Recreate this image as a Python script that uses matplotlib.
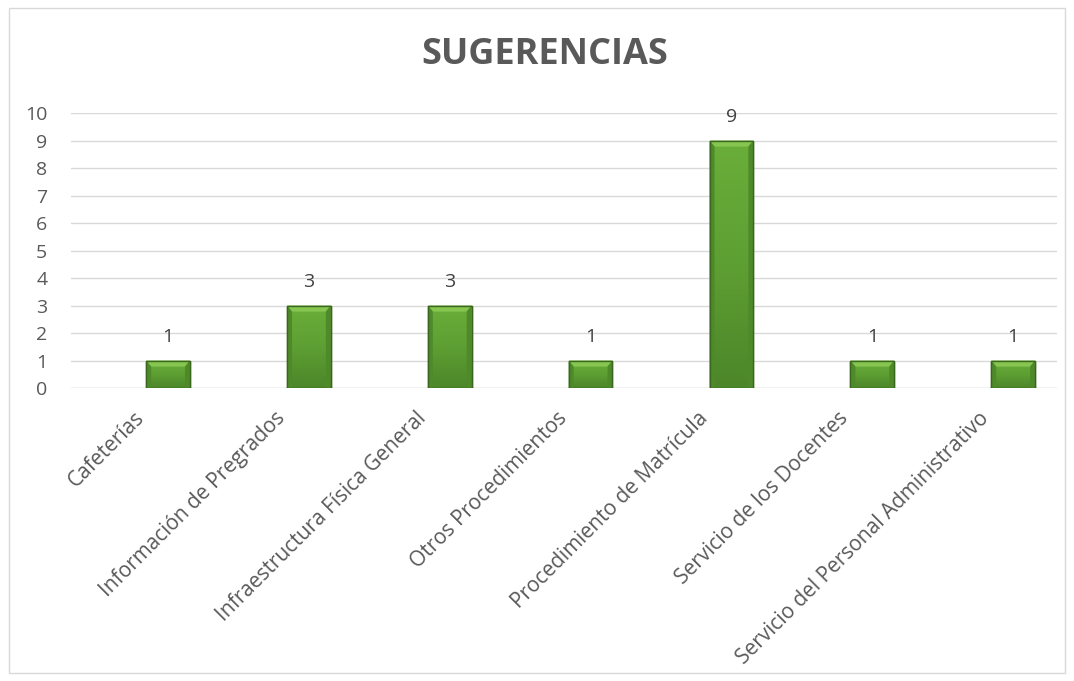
import matplotlib
matplotlib.use("Agg")
from matplotlib import pyplot as plt
from matplotlib.patches import Rectangle, Polygon
from matplotlib.colors import LinearSegmentedColormap
import matplotlib.transforms as mtransforms
import numpy as np

categorias = ["Cafeterías", "Información de Pregrados", "Infraestructura Física General",
              "Otros Procedimientos", "Procedimiento de Matrícula", "Servicio de los Docentes",
              "Servicio del Personal Administrativo"]
valores = [1, 3, 3, 1, 9, 1, 1]
yticks = list(range(0, 11))

plt.rcParams['font.family'] = ['Open Sans', 'DejaVu Sans']
gris = '#595959'

fig = plt.figure(figsize=(10.74, 6.81), dpi=100)
fig.patches.append(Rectangle((9 / 1074, 8 / 681), 1056 / 1074, 665 / 681,
                             transform=fig.transFigure, fill=False,
                             edgecolor='#d9d9d9', linewidth=1))
ax = fig.add_axes([0.066, 0.4302, 0.918, 0.4038])

x = list(range(len(categorias)))
bars = ax.bar(x, valores, width=0.31, color='#5c9c31', edgecolor='#3a661d',
              linewidth=1.0, zorder=3)

# degradado vertical y bisel para cada barra
cmap = LinearSegmentedColormap.from_list('verde', ['#4c8629', '#5e9f33', '#6aae3a'])
grad = np.linspace(0, 1, 256).reshape(-1, 1)
bx, by = 0.035, 0.22
for b in bars:
    x0, w, h = b.get_x(), b.get_width(), b.get_height()
    im = ax.imshow(grad, cmap=cmap, origin='lower', aspect='auto',
                   extent=(x0, x0 + w, 0, h), zorder=3.5)
    im.set_clip_path(b)
    ax.add_patch(Polygon([(x0, h), (x0 + w, h), (x0 + w - bx, h - by), (x0 + bx, h - by)],
                         closed=True, facecolor='#86c650', edgecolor='none', zorder=4))
    ax.add_patch(Polygon([(x0, h), (x0 + bx, h - by), (x0 + bx, 0), (x0, 0)],
                         closed=True, facecolor='#4f8a2a', edgecolor='none', zorder=4))
    ax.add_patch(Polygon([(x0 + w, h), (x0 + w - bx, h - by), (x0 + w - bx, 0), (x0 + w, 0)],
                         closed=True, facecolor='#4f8a2a', edgecolor='none', zorder=4))
    ax.add_patch(Rectangle((x0, 0), w, h, fill=False, edgecolor='#3a661d',
                           linewidth=1.0, zorder=5))

for xi, v in zip(x, valores):
    ax.annotate(str(v), (xi, v), xytext=(0, 17), textcoords='offset points',
                ha='center', va='center', fontsize=14, color='#404040')

ax.set_xlim(-0.69, 6.31)
ax.set_ylim(0, 10)
ax.set_yticks(yticks)
ax.set_xticks(x)
ax.set_xticklabels([])

# etiquetas de categoría giradas 45°
offset = mtransforms.ScaledTranslation(-27 / 100, -27 / 100, fig.dpi_scale_trans)
for xi, cat in zip(x, categorias):
    ax.text(xi, 0, cat, transform=ax.get_xaxis_transform() + offset,
            rotation=45, ha='right', va='center', rotation_mode='anchor',
            fontsize=15, color=gris)

ax.tick_params(axis='y', length=0, labelsize=14, labelcolor=gris, pad=17)
ax.tick_params(axis='x', length=0, pad=0)
ax.grid(axis='y', color='#d9d9d9', linewidth=1, zorder=0)
for s in ax.spines.values():
    s.set_visible(False)
ax.axhline(0, color='#d9d9d9', linewidth=1, zorder=1)

fig.text(0.507, 0.919, "SUGERENCIAS", ha='center', va='center', fontsize=26,
         fontweight='bold', color=gris)

fig.savefig("out.png", dpi=100)
